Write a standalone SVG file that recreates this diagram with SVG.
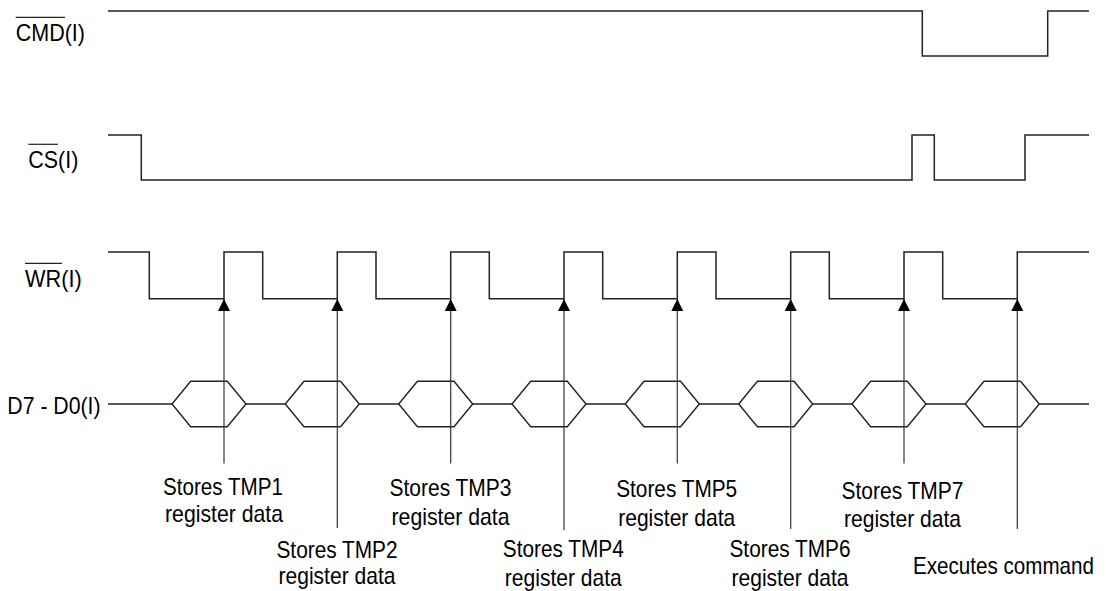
<svg xmlns="http://www.w3.org/2000/svg" width="1106" height="591" viewBox="0 0 1106 591">
<style>
.sig{fill:none;stroke:#222;stroke-width:1.5}
.ovl{stroke:#222;stroke-width:1.2}
.arr{stroke:#333;stroke-width:1.2;marker-end:url(#ah)}
.hex{fill:#fff;stroke:#222;stroke-width:1.4}
text{font-family:"Liberation Sans",Arial,sans-serif;font-size:24px;fill:#000}
.c{text-anchor:middle}
</style>
<defs>
<marker id="ah" viewBox="0 0 10 10" refX="10" refY="5" markerUnits="userSpaceOnUse" markerWidth="13" markerHeight="12" orient="auto">
<path d="M0,0 L10,5 L0,10 z" fill="#000"/>
</marker>
<polygon id="hx" points="0,0 18.7,-22.7 55.3,-22.7 74,0 55.3,22.7 18.7,22.7"/>
</defs>

<g id="sig-cmd">
<text x="15.7" y="40.7" textLength="69.3" lengthAdjust="spacingAndGlyphs">CMD(I)</text>
<line class="ovl" x1="15.7" y1="17.3" x2="65" y2="17.3"/>
<path class="sig" d="M108,11 H922.3 V56 H1047.7 V11 H1089"/>
</g>

<g id="sig-cs">
<text x="28.3" y="168" textLength="50" lengthAdjust="spacingAndGlyphs">CS(I)</text>
<line class="ovl" x1="28.3" y1="144.3" x2="58" y2="144.3"/>
<path class="sig" d="M108,135 H141.3 V180 H912 V135 H934.3 V180 H1025 V135 H1089"/>
</g>

<g id="sig-wr">
<text x="25" y="286.7" textLength="56.7" lengthAdjust="spacingAndGlyphs">WR(I)</text>
<line class="ovl" x1="25" y1="263.3" x2="62" y2="263.3"/>
<path class="sig" d="M108,252 H149.3 V298.7 H224 V252 H262.7 V298.7 H337.3 V252 H376 V298.7 H450.7 V252 H489.3 V298.7 H564 V252 H602.7 V298.7 H677.3 V252 H716 V298.7 H790.7 V252 H829.3 V298.7 H904 V252 H942.7 V298.7 H1017.3 V252 H1089"/>
</g>

<g id="sig-data">
<text x="7.3" y="414.3" textLength="93.3" lengthAdjust="spacingAndGlyphs">D7 - D0(I)</text>
<path class="sig" d="M108,404 H172 M246,404 H285.3 M359.3,404 H398.7 M472.7,404 H512 M586,404 H625.3 M699.3,404 H738.7 M812.7,404 H852 M926,404 H965.3 M1039.3,404 H1089"/>
<use href="#hx" class="hex" x="172" y="404"/>
<use href="#hx" class="hex" x="285.3" y="404"/>
<use href="#hx" class="hex" x="398.7" y="404"/>
<use href="#hx" class="hex" x="512" y="404"/>
<use href="#hx" class="hex" x="625.3" y="404"/>
<use href="#hx" class="hex" x="738.7" y="404"/>
<use href="#hx" class="hex" x="852" y="404"/>
<use href="#hx" class="hex" x="965.3" y="404"/>
</g>

<g id="connectors">
<line class="arr" x1="224" y1="463.5" x2="224" y2="299"/>
<line class="arr" x1="337.3" y1="528" x2="337.3" y2="299"/>
<line class="arr" x1="450.7" y1="463.5" x2="450.7" y2="299"/>
<line class="arr" x1="564" y1="530" x2="564" y2="299"/>
<line class="arr" x1="677.3" y1="463.5" x2="677.3" y2="299"/>
<line class="arr" x1="790.7" y1="529" x2="790.7" y2="299"/>
<line class="arr" x1="904" y1="463.5" x2="904" y2="299"/>
<line class="arr" x1="1017.3" y1="529" x2="1017.3" y2="299"/>
</g>

<g id="label-tmp1">
<text class="c" x="223" y="494.5" textLength="120" lengthAdjust="spacingAndGlyphs">Stores TMP1</text>
<text class="c" x="224" y="522" textLength="118" lengthAdjust="spacingAndGlyphs">register data</text>
</g>
<g id="label-tmp2">
<text class="c" x="337" y="558" textLength="121" lengthAdjust="spacingAndGlyphs">Stores TMP2</text>
<text class="c" x="337" y="584" textLength="117" lengthAdjust="spacingAndGlyphs">register data</text>
</g>
<g id="label-tmp3">
<text class="c" x="450.5" y="496" textLength="122" lengthAdjust="spacingAndGlyphs">Stores TMP3</text>
<text class="c" x="450.5" y="524.5" textLength="118" lengthAdjust="spacingAndGlyphs">register data</text>
</g>
<g id="label-tmp4">
<text class="c" x="563.3" y="557" textLength="121" lengthAdjust="spacingAndGlyphs">Stores TMP4</text>
<text class="c" x="563.3" y="585.5" textLength="117" lengthAdjust="spacingAndGlyphs">register data</text>
</g>
<g id="label-tmp5">
<text class="c" x="676.7" y="497" textLength="121" lengthAdjust="spacingAndGlyphs">Stores TMP5</text>
<text class="c" x="676.7" y="526" textLength="117" lengthAdjust="spacingAndGlyphs">register data</text>
</g>
<g id="label-tmp6">
<text class="c" x="790" y="557" textLength="121" lengthAdjust="spacingAndGlyphs">Stores TMP6</text>
<text class="c" x="790" y="586" textLength="117" lengthAdjust="spacingAndGlyphs">register data</text>
</g>
<g id="label-tmp7">
<text class="c" x="902.5" y="499" textLength="122" lengthAdjust="spacingAndGlyphs">Stores TMP7</text>
<text class="c" x="902.5" y="527" textLength="117" lengthAdjust="spacingAndGlyphs">register data</text>
</g>
<g id="label-exec">
<text class="c" x="1003.5" y="574" textLength="181" lengthAdjust="spacingAndGlyphs">Executes command</text>
</g>
</svg>
